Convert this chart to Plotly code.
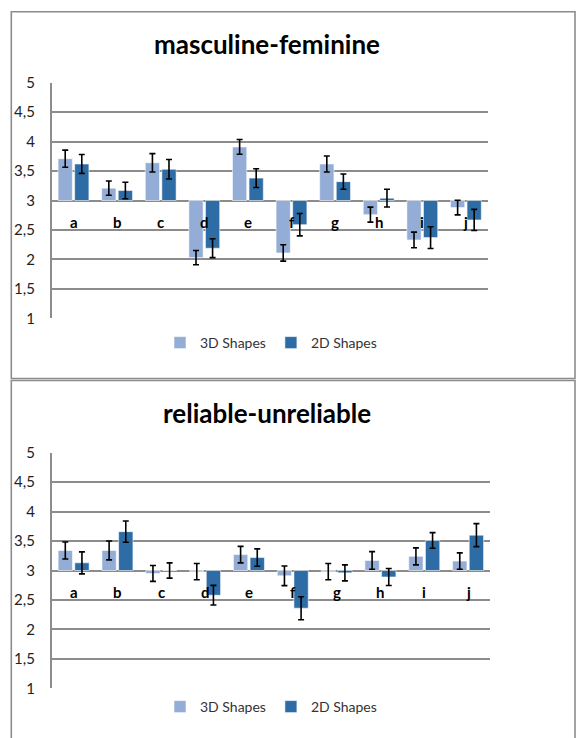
import plotly.graph_objects as go

# ---- data -------------------------------------------------------------
CATEGORIES = ["a", "b", "c", "d", "e", "f", "g", "h", "i", "j"]
SERIES_NAMES = ["3D Shapes", "2D Shapes"]

# masculine-feminine ratings (mean, error)
MF_3D = [3.71, 3.21, 3.64, 2.03, 3.91, 2.11, 3.62, 2.76, 2.33, 2.88]
MF_3D_ERR = [0.145, 0.12, 0.155, 0.12, 0.125, 0.14, 0.135, 0.127, 0.133, 0.124]
MF_2D = [3.62, 3.17, 3.53, 2.19, 3.38, 2.59, 3.32, 3.04, 2.37, 2.67]
MF_2D_ERR = [0.16, 0.14, 0.165, 0.16, 0.16, 0.19, 0.13, 0.15, 0.185, 0.18]

# reliable-unreliable ratings (mean, error)
RU_3D = [3.34, 3.34, 2.95, 2.98, 3.27, 2.91, 2.98, 3.17, 3.24, 3.16]
RU_3D_ERR = [0.144, 0.16, 0.135, 0.138, 0.14, 0.167, 0.138, 0.15, 0.144, 0.14]
RU_2D = [3.13, 3.66, 3.00, 2.58, 3.22, 2.36, 2.96, 2.89, 3.51, 3.60]
RU_2D_ERR = [0.187, 0.18, 0.13, 0.167, 0.147, 0.195, 0.136, 0.145, 0.133, 0.195]

TITLES = ["masculine-feminine", "reliable-unreliable"]
Y_TICK_VALUES = [1, 1.5, 2, 2.5, 3, 3.5, 4, 4.5, 5]
Y_TICK_LABELS = ["1", "1,5", "2", "2,5", "3", "3,5", "4", "4,5", "5"]
MIDPOINT = 3

# ---- styling ----------------------------------------------------------
W, H = 579, 738
LIGHT = "#93ADD6"
DARK = "#2E6CA5"
GRID = "#8C8C8C"
FONT = "Lato, 'Open Sans', sans-serif"


def px_x(v):
    return v / W


def px_y(v):
    return 1 - v / H


panels = [
    dict(data=(MF_3D, MF_3D_ERR, MF_2D, MF_2D_ERR), title=TITLES[0],
         plot=(51.7, 487.7, 82.7, 318.3), title_y=43.5, legend_y=343),
    dict(data=(RU_3D, RU_3D_ERR, RU_2D, RU_2D_ERR), title=TITLES[1],
         plot=(51.7, 490.0, 452.7, 688.3), title_y=413.0, legend_y=707),
]

fig = go.Figure()
annotations = []
layout = {}

for k, p in enumerate(panels):
    suffix = "" if k == 0 else str(k + 1)
    xa, ya = "x" + suffix, "y" + suffix
    legend_name = "legend" + suffix
    v3, e3, v2, e2 = p["data"]
    for name, vals, errs, color in ((SERIES_NAMES[0], v3, e3, LIGHT),
                                    (SERIES_NAMES[1], v2, e2, DARK)):
        fig.add_trace(go.Bar(
            x=CATEGORIES,
            y=[v - MIDPOINT for v in vals],
            base=MIDPOINT,
            name=name,
            marker=dict(color=color, line=dict(color="rgba(255,255,255,0.55)", width=1)),
            error_y=dict(type="data", array=errs, color="black", thickness=1.6, width=3),
            xaxis=xa, yaxis=ya, legend=legend_name,
        ))

    x0, x1, y0, y1 = p["plot"]
    layout["xaxis" + suffix] = dict(
        domain=[px_x(x0), px_x(x1)], anchor=ya, showticklabels=False,
        showgrid=False, zeroline=False, showline=False, ticks="",
        type="category", automargin=False,
    )
    layout["yaxis" + suffix] = dict(
        domain=[px_y(y1), px_y(y0)], anchor=xa, range=[1, 5],
        tickvals=Y_TICK_VALUES, ticktext=Y_TICK_LABELS,
        showgrid=True, gridcolor=GRID, gridwidth=1.6,
        zeroline=False, showline=True, linecolor=GRID, linewidth=1.6,
        ticks="", ticklabelstandoff=12, automargin=False,
        tickfont=dict(family=FONT, size=15, color="#222222"),
    )
    layout[legend_name] = dict(
        orientation="h", x=px_x(271), xanchor="center",
        y=px_y(p["legend_y"]), yanchor="middle",
        font=dict(family=FONT, size=14, color="#333333"),
        bgcolor="rgba(0,0,0,0)", itemwidth=30, traceorder="normal",
    )

    # chart title
    annotations.append(dict(
        text=p["title"], x=px_x(267), y=px_y(p["title_y"]),
        xref="paper", yref="paper", xanchor="center", yanchor="middle",
        showarrow=False, font=dict(family=FONT, size=26, color="black", weight="bold"),
    ))
    # category labels sit just under the midpoint line
    for c in CATEGORIES:
        annotations.append(dict(
            text=c, x=c, y=MIDPOINT, xref=xa, yref=ya,
            xanchor="center", yanchor="middle", yshift=-21, showarrow=False,
            font=dict(family=FONT, size=15, color="black", weight="bold"),
        ))

shapes = [
    dict(type="rect", xref="paper", yref="paper",
         x0=px_x(11.3), x1=px_x(575), y0=px_y(378.5), y1=px_y(11.7),
         line=dict(color=GRID, width=1.6), layer="below"),
    dict(type="rect", xref="paper", yref="paper",
         x0=px_x(11.3), x1=px_x(575), y0=px_y(760), y1=px_y(380.5),
         line=dict(color=GRID, width=1.6), layer="below"),
]

fig.update_layout(
    width=W, height=H,
    margin=dict(l=0, r=0, t=0, b=0, pad=0, autoexpand=False),
    paper_bgcolor="white", plot_bgcolor="white",
    barmode="group", bargap=0.24, bargroupgap=0.14,
    showlegend=True, annotations=annotations, shapes=shapes,
    font=dict(family=FONT),
    **layout,
)

fig.write_html("out.html")
